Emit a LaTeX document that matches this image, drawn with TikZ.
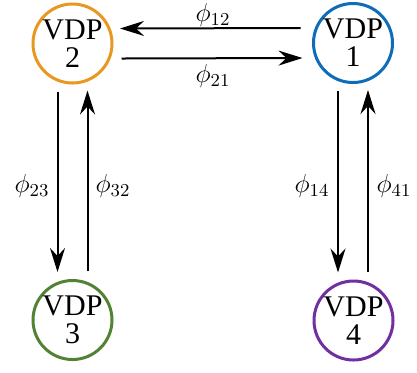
\RequirePackage{fix-cm}
\documentclass[tikz,border=0pt]{standalone}
\usepackage{fontspec}
\newfontfamily\vdpfont{Liberation Serif}
\usetikzlibrary{arrows.meta}
\definecolor{vorange}{RGB}{232,152,30}
\definecolor{vblue}{RGB}{14,108,184}
\definecolor{vgreen}{RGB}{84,130,53}
\definecolor{vpurple}{RGB}{112,48,160}
\tikzset{
  vdp/.style={circle, draw=#1, line width=1.5pt, minimum size=39.5pt, inner sep=0pt,
    align=center, font=\vdpfont\fontsize{15}{14}\selectfont},
  flow/.style={line width=1pt, -{Stealth[length=12pt, width=7.5pt, inset=4pt]}},
  lab/.style={font=\fontsize{13}{15}\selectfont, inner sep=0pt}
}
\begin{document}
\begin{tikzpicture}[x=0.5pt, y=-0.5pt]
\useasboundingbox (0,0) rectangle (417,372);
\node[vdp=vorange] (v2) at (72.5,43.5) {VDP\\2};
\node[vdp=vblue] (v1) at (353,43) {VDP\\1};
\node[vdp=vgreen] (v3) at (72.5,320) {VDP\\3};
\node[vdp=vpurple] (v4) at (353.5,320.5) {VDP\\4};
% top pair
\draw[flow] ([xshift=-5.75pt, yshift=7.5pt]v1.west) -- ([xshift=3.25pt, yshift=7.5pt]v2.east);
\draw[flow] ([xshift=4pt, yshift=-7.5pt]v2.east) -- ([xshift=-4.75pt, yshift=-7.5pt]v1.west);
% left pair
\draw[flow] ([xshift=-7.5pt, yshift=-3.5pt]v2.south) -- ([xshift=-7.5pt, yshift=3.5pt]v3.north);
\draw[flow] ([xshift=7.5pt, yshift=4pt]v3.north) -- ([xshift=7.5pt, yshift=-3pt]v2.south);
% right pair
\draw[flow] ([xshift=-7.5pt, yshift=-3.5pt]v1.south) -- ([xshift=-7.75pt, yshift=3.5pt]v4.north);
\draw[flow] ([xshift=7.25pt, yshift=4pt]v4.north) -- ([xshift=7.5pt, yshift=-3pt]v1.south);
% labels
\node[lab] (l12) at (213,15) {$\phi_{12}$};
\node[lab] (l21) at (213,76) {$\phi_{21}$};
\node[lab] (l23) at (32,186) {$\phi_{23}$};
\node[lab] (l32) at (113,186) {$\phi_{32}$};
\node[lab] (l14) at (312,186) {$\phi_{14}$};
\node[lab] (l41) at (394,186) {$\phi_{41}$};
\end{tikzpicture}
\end{document}
